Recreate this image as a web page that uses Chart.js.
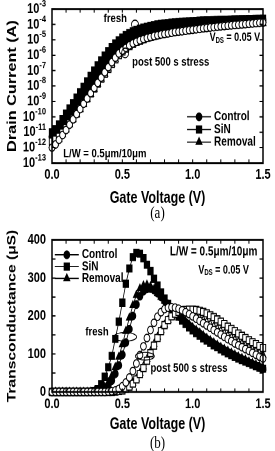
<!DOCTYPE html>
<html>
<head>
    <title>Drain current and transconductance</title>
    <script src="https://cdn.jsdelivr.net/npm/chart.js"></script>
    <style>
        body { margin: 0; background: #fff; }
        /* the figure is stretched vertically, so draw it flat and stretch the whole page */
        #page { position: absolute; left: 0; top: 0; width: 275px; height: 348px;
                transform: scaleY(1.3); transform-origin: 0 0; }
        .box { position: absolute; left: 0; width: 275px; }
        .cap { position: absolute; left: 52px; width: 211px; text-align: center;
               font: 13px "Liberation Serif", "DejaVu Serif", serif; line-height: 14px; }
    </style>
</head>
<body>
<div id="page">
    <div class="box" style="top:0"><canvas id="ivChart" width="275" height="160"></canvas></div>
    <div class="cap" style="top:157px">(a)</div>
    <div class="box" style="top:172px"><canvas id="gmChart" width="275" height="162"></canvas></div>
    <div class="cap" style="top:334px">(b)</div>
</div>

<script>
    const FONT = "'Liberation Sans', Arial, sans-serif";

    // gate voltage (V)
    const gateV = [0, 0.025, 0.05, 0.075, 0.1, 0.125, 0.15, 0.175, 0.2, 0.225, 0.25, 0.275, 0.3, 0.325, 0.35, 0.375,
        0.4, 0.425, 0.45, 0.475, 0.5, 0.525, 0.55, 0.575, 0.6, 0.625, 0.65, 0.675, 0.7, 0.725, 0.75, 0.775,
        0.8, 0.825, 0.85, 0.875, 0.9, 0.925, 0.95, 0.975, 1.0, 1.025, 1.05, 1.075, 1.1, 1.125, 1.15, 1.175,
        1.2, 1.225, 1.25, 1.275, 1.3, 1.325, 1.35, 1.375, 1.4, 1.425, 1.45, 1.475, 1.5];

    // (a) drain current (A), fresh
    const idCtrlFresh = [5.0e-12, 7.1e-12, 1.2e-11, 2.4e-11, 5.0e-11, 1.1e-10, 2.4e-10, 5.2e-10, 1.15e-9, 2.5e-9,
        5.5e-9, 1.2e-8, 2.6e-8, 5.6e-8, 1.2e-7, 2.5e-7, 5.6e-7, 1.26e-6, 2.5e-6, 4.4e-6, 6.9e-6, 1.0e-5, 1.4e-5,
        1.9e-5, 2.5e-5, 3.2e-5, 3.8e-5, 4.5e-5, 5.1e-5, 5.8e-5, 6.5e-5, 7.2e-5, 7.9e-5, 8.5e-5, 9.1e-5, 9.7e-5,
        1.03e-4, 1.08e-4, 1.13e-4, 1.18e-4, 1.23e-4, 1.27e-4, 1.31e-4, 1.35e-4, 1.39e-4, 1.43e-4, 1.47e-4, 1.5e-4,
        1.54e-4, 1.57e-4, 1.6e-4, 1.63e-4, 1.66e-4, 1.68e-4, 1.71e-4, 1.73e-4, 1.75e-4, 1.77e-4, 1.79e-4, 1.81e-4, 1.83e-4];
    const idSinFresh = [1.0e-11, 1.6e-11, 3.2e-11, 7.1e-11, 1.6e-10, 3.5e-10, 7.9e-10, 1.8e-9, 4.0e-9, 8.9e-9,
        2.0e-8, 4.5e-8, 1.0e-7, 2.2e-7, 4.7e-7, 9.5e-7, 1.85e-6, 3.4e-6, 5.8e-6, 9.3e-6, 1.4e-5, 2.0e-5, 2.7e-5,
        3.5e-5, 4.4e-5, 5.3e-5, 6.2e-5, 7.1e-5, 7.9e-5, 9.0e-5, 9.9e-5, 1.07e-4, 1.15e-4, 1.22e-4, 1.29e-4, 1.35e-4,
        1.41e-4, 1.47e-4, 1.53e-4, 1.58e-4, 1.63e-4, 1.68e-4, 1.73e-4, 1.77e-4, 1.81e-4, 1.85e-4, 1.89e-4, 1.93e-4,
        1.97e-4, 2.0e-4, 2.04e-4, 2.07e-4, 2.1e-4, 2.13e-4, 2.16e-4, 2.19e-4, 2.22e-4, 2.24e-4, 2.27e-4, 2.29e-4, 2.32e-4];
    const idRemFresh = [7.1e-12, 1.05e-11, 1.9e-11, 4.0e-11, 8.7e-11, 1.95e-10, 4.3e-10, 9.5e-10, 2.1e-9, 4.7e-9,
        1.0e-8, 2.3e-8, 5.0e-8, 1.1e-7, 2.3e-7, 5.0e-7, 1.07e-6, 2.1e-6, 3.8e-6, 6.2e-6, 9.1e-6, 1.3e-5, 1.8e-5,
        2.4e-5, 3.0e-5, 3.7e-5, 4.4e-5, 5.1e-5, 5.8e-5, 6.5e-5, 7.2e-5, 7.9e-5, 8.6e-5, 9.3e-5, 9.9e-5, 1.05e-4,
        1.11e-4, 1.16e-4, 1.21e-4, 1.26e-4, 1.31e-4, 1.36e-4, 1.4e-4, 1.44e-4, 1.48e-4, 1.52e-4, 1.56e-4, 1.6e-4,
        1.63e-4, 1.66e-4, 1.69e-4, 1.72e-4, 1.75e-4, 1.78e-4, 1.8e-4, 1.83e-4, 1.85e-4, 1.88e-4, 1.9e-4, 1.92e-4, 1.94e-4];

    // (a) drain current (A), post 500 s stress
    const idCtrlStress = [1.0e-12, 1.6e-12, 3.2e-12, 6.6e-12, 1.4e-11, 3.1e-11, 6.8e-11, 1.5e-10, 3.2e-10, 7.1e-10,
        1.55e-9, 3.4e-9, 7.4e-9, 1.6e-8, 3.5e-8, 7.8e-8, 1.66e-7, 3.5e-7, 6.9e-7, 1.3e-6, 2.0e-6, 3.0e-6, 4.3e-6,
        5.8e-6, 7.4e-6, 9.3e-6, 1.12e-5, 1.32e-5, 1.51e-5, 1.74e-5, 1.95e-5, 2.2e-5, 2.4e-5, 2.6e-5, 2.9e-5, 3.2e-5,
        3.4e-5, 3.6e-5, 3.9e-5, 4.2e-5, 4.5e-5, 4.8e-5, 5.1e-5, 5.5e-5, 5.9e-5, 6.3e-5, 6.6e-5, 7.1e-5,
        7.4e-5, 7.9e-5, 8.3e-5, 8.7e-5, 9.1e-5, 9.5e-5, 1.0e-4, 1.05e-4, 1.1e-4, 1.15e-4, 1.2e-4, 1.26e-4, 1.32e-4];
    const idSinStress = [2.5e-12, 3.3e-12, 5.2e-12, 9.5e-12, 1.9e-11, 3.8e-11, 7.9e-11, 1.66e-10, 3.5e-10, 7.6e-10,
        1.6e-9, 3.3e-9, 6.9e-9, 1.45e-8, 3.0e-8, 6.3e-8, 1.3e-7, 2.7e-7, 5.4e-7, 1.0e-6, 1.74e-6, 2.7e-6, 3.9e-6,
        5.4e-6, 7.1e-6, 8.9e-6, 1.1e-5, 1.32e-5, 1.55e-5, 1.78e-5, 2.0e-5, 2.3e-5, 2.6e-5, 2.8e-5, 3.1e-5, 3.4e-5,
        3.7e-5, 4.0e-5, 4.3e-5, 4.6e-5, 4.9e-5, 5.2e-5, 5.6e-5, 6.0e-5, 6.5e-5, 6.9e-5, 7.4e-5, 7.8e-5,
        8.3e-5, 8.7e-5, 9.3e-5, 9.8e-5, 1.02e-4, 1.07e-4, 1.12e-4, 1.17e-4, 1.23e-4, 1.29e-4, 1.35e-4, 1.41e-4, 1.48e-4];
    const idRemStress = [1.4e-12, 2.0e-12, 3.5e-12, 7.1e-12, 1.5e-11, 3.2e-11, 6.8e-11, 1.45e-10, 3.1e-10, 6.6e-10,
        1.4e-9, 3.0e-9, 6.5e-9, 1.4e-8, 2.95e-8, 6.3e-8, 1.35e-7, 2.8e-7, 5.6e-7, 1.07e-6, 1.82e-6, 2.75e-6, 3.9e-6,
        5.2e-6, 6.8e-6, 8.3e-6, 1.0e-5, 1.17e-5, 1.35e-5, 1.55e-5, 1.74e-5, 1.95e-5, 2.1e-5, 2.3e-5, 2.6e-5, 2.8e-5,
        3.0e-5, 3.2e-5, 3.5e-5, 3.7e-5, 4.0e-5, 4.3e-5, 4.6e-5, 4.9e-5, 5.2e-5, 5.5e-5, 5.9e-5, 6.2e-5,
        6.6e-5, 6.9e-5, 7.2e-5, 7.6e-5, 7.9e-5, 8.3e-5, 8.7e-5, 9.1e-5, 9.5e-5, 1.0e-4, 1.05e-4, 1.1e-4, 1.15e-4];

    // (b) transconductance (uS), fresh
    const gmCtrlFresh = [0, 0, 0, 0, 0, 0, 0, 0, 0, 0, 0, 0, 0, 1, 3, 8, 17, 30, 48, 70, 98, 130, 165, 200, 230,
        252, 265, 271, 272, 268, 260, 250, 240, 229, 219, 209, 200, 191, 183, 175, 167, 160, 153, 146, 139, 133,
        127, 121, 115, 110, 105, 100, 95, 90, 86, 81, 77, 73, 69, 65, 61];
    const gmSinFresh = [0, 0, 0, 0, 0, 0, 0, 0, 0, 0, 0, 1, 3, 8, 20, 40, 65, 95, 140, 185, 235, 285, 325, 355,
        366, 364, 352, 335, 318, 298, 280, 262, 246, 232, 220, 208, 198, 188, 179, 170, 162, 155, 148, 141, 135,
        129, 123, 118, 112, 107, 102, 97, 93, 88, 84, 80, 76, 72, 68, 64, 61];
    const gmRemFresh = [0, 0, 0, 0, 0, 0, 0, 0, 0, 0, 0, 0, 1, 2, 5, 12, 25, 42, 65, 92, 125, 160, 195, 228, 255,
        272, 280, 282, 278, 270, 260, 250, 240, 230, 220, 211, 202, 194, 186, 178, 170, 163, 156, 149, 142, 136,
        130, 124, 118, 113, 108, 103, 98, 93, 89, 85, 80, 76, 72, 68, 64];

    // (b) transconductance (uS), post 500 s stress
    const gmCtrlStress = [0, 0, 0, 0, 0, 0, 0, 0, 0, 0, 0, 0, 0, 0, 0, 0, 1, 2, 4, 8, 15, 25, 38, 55, 75, 97, 120,
        142, 163, 182, 198, 210, 218, 222, 223, 222, 219, 215, 210, 205, 199, 193, 187, 181, 175, 169, 163, 157,
        151, 145, 139, 134, 128, 123, 118, 113, 108, 103, 98, 93, 88];
    const gmSinStress = [0, 0, 0, 0, 0, 0, 0, 0, 0, 0, 0, 0, 0, 0, 0, 0, 0, 0, 1, 2, 4, 8, 14, 22, 33, 47, 63, 82,
        102, 122, 142, 160, 176, 189, 199, 206, 211, 214, 216, 217, 217, 216, 214, 211, 207, 202, 197, 191, 185,
        179, 172, 166, 160, 154, 148, 142, 136, 131, 126, 121, 116];
    const gmRemStress = [0, 0, 0, 0, 0, 0, 0, 0, 0, 0, 0, 0, 0, 0, 0, 0, 0, 0, 1, 2, 4, 8, 15, 24, 35, 50, 67, 86,
        106, 126, 145, 162, 177, 189, 198, 204, 207, 208, 207, 205, 202, 198, 194, 189, 184, 178, 172, 166, 160,
        154, 148, 143, 137, 132, 127, 122, 117, 112, 107, 102, 97];

    // axis ticks
    const xLabelTicks = [0, 0.5, 1.0, 1.5];
    const xMinorTicks = [0, 0.1, 0.2, 0.3, 0.4, 0.5, 0.6, 0.7, 0.8, 0.9, 1.0, 1.1, 1.2, 1.3, 1.4, 1.5];
    const idDecades = [-13, -12, -11, -10, -9, -8, -7, -6, -5, -4, -3];
    const gmTicks = [0, 50, 100, 150, 200, 250, 300, 350, 400];

    const groups = ['Control', 'SiN', 'Removal'];
    const markers = { Control: ['circle', 2.9], SiN: ['rect', 3.8], Removal: ['triangle', 3.4] };

    Chart.defaults.font.family = FONT;
    Chart.defaults.font.weight = 'bold';
    Chart.defaults.color = '#000';

    function points(ys) {
        return gateV.map((v, i) => ({ x: v, y: ys[i] }));
    }

    function makeSet(group, ys, filled) {
        const [style, r] = markers[group];
        return {
            label: group + (filled ? ' fresh' : ' stress'),
            data: points(ys),
            borderColor: '#000',
            borderWidth: 0.8,
            pointStyle: style,
            pointRadius: r,
            pointBorderWidth: 0.9,
            pointBorderColor: '#000',
            pointBackgroundColor: filled ? '#000' : '#fff',
            tension: 0,
            clip: 6
        };
    }

    function drawRuns(ctx, runs, x, y, align) {
        let w = 0;
        const widths = runs.map(r => {
            ctx.font = 'bold ' + r.size + 'px ' + FONT;
            const m = ctx.measureText(r.text).width;
            w += m;
            return m;
        });
        let cx = align === 'right' ? x - w : (align === 'center' ? x - w / 2 : x);
        ctx.textAlign = 'left';
        ctx.textBaseline = 'middle';
        ctx.fillStyle = '#000';
        runs.forEach((r, i) => {
            ctx.font = 'bold ' + r.size + 'px ' + FONT;
            ctx.fillText(r.text, cx, y + (r.dy || 0));
            cx += widths[i];
        });
    }

    // frame, inward ticks on all sides, notes, ellipses and legend
    function makeDecor(cfg) {
        return {
            id: 'decor',
            afterDatasetsDraw(chart) {
                const { ctx, chartArea: a } = chart;
                const xs = chart.scales.x, ys = chart.scales.y;
                ctx.save();
                ctx.strokeStyle = '#000';
                ctx.lineWidth = 1;
                ctx.beginPath();
                xMinorTicks.forEach(v => {
                    const px = xs.getPixelForValue(v);
                    ctx.moveTo(px, a.bottom); ctx.lineTo(px, a.bottom - 2.8);
                    ctx.moveTo(px, a.top); ctx.lineTo(px, a.top + 2.8);
                });
                cfg.yTicks.forEach(v => {
                    const py = ys.getPixelForValue(v);
                    ctx.moveTo(a.left, py); ctx.lineTo(a.left + 3.5, py);
                    ctx.moveTo(a.right, py); ctx.lineTo(a.right - 3.5, py);
                });
                ctx.stroke();
                ctx.lineWidth = 1.5;
                ctx.strokeRect(a.left, a.top, a.right - a.left, a.bottom - a.top);

                if (cfg.powerLabels) {
                    cfg.yTicks.forEach((v, i) => {
                        const py = ys.getPixelForValue(v);
                        drawRuns(ctx, [{ text: '10', size: 11 }, { text: String(idDecades[i]), size: 7.5, dy: -4 }],
                            a.left - 6, py, 'right');
                    });
                }

                cfg.notes.forEach(n => {
                    drawRuns(ctx, n.runs, xs.getPixelForValue(n.x), ys.getPixelForValue(n.y), n.align);
                });

                ctx.lineWidth = 0.8;
                cfg.rings.forEach(e => {
                    ctx.beginPath();
                    ctx.ellipse(xs.getPixelForValue(e.x), ys.getPixelForValue(e.y), e.rx, e.ry, 0, 0, Math.PI * 2);
                    ctx.stroke();
                });

                const L = cfg.legend;
                const x0 = xs.getPixelForValue(L.x);
                groups.forEach((g, i) => {
                    const py = ys.getPixelForValue(L.rows[i]);
                    ctx.lineWidth = 0.9;
                    ctx.beginPath();
                    ctx.moveTo(x0, py); ctx.lineTo(x0 + L.len, py);
                    ctx.stroke();
                    ctx.fillStyle = '#000';
                    Chart.helpers.drawPoint(ctx, { pointStyle: markers[g][0], radius: markers[g][1], borderWidth: 0.9, rotation: 0 },
                        x0 + L.len / 2, py);
                    drawRuns(ctx, [{ text: g, size: 10 }], x0 + L.len + 3, py, 'left');
                });
                ctx.restore();
            }
        };
    }

    const vds = [{ text: 'V', size: 9 }, { text: 'DS', size: 6, dy: 2 }, { text: ' = 0.05 V', size: 9 }];

    const ivDecor = {
        yTicks: idDecades.map(e => Math.pow(10, e)),
        powerLabels: true,
        notes: [
            { x: 0.45, y: 2.3e-4, align: 'center', runs: [{ text: 'fresh', size: 9.5 }] },
            { x: 0.57, y: 3.6e-7, align: 'left', runs: [{ text: 'post 500 s stress', size: 9.5 }] },
            { x: 1.48, y: 1.3e-5, align: 'right', runs: vds },
            { x: 0.08, y: 4e-13, align: 'left', runs: [{ text: 'L/W = 0.5\u03bcm/10\u03bcm', size: 9.5 }] }
        ],
        rings: [
            { x: 0.59, y: 1.0e-4, rx: 3.5, ry: 3.3 },
            { x: 0.52, y: 1.4e-6, rx: 3.5, ry: 3.8 }
        ],
        legend: { x: 0.96, len: 24, rows: [1e-10, 1.5e-11, 2.3e-12] }
    };

    const gmDecor = {
        yTicks: gmTicks,
        powerLabels: false,
        notes: [
            { x: 0.32, y: 158, align: 'center', runs: [{ text: 'fresh', size: 9.5 }] },
            { x: 0.70, y: 62, align: 'left', runs: [{ text: 'post 500 s stress', size: 9.5 }] },
            { x: 1.46, y: 369, align: 'right', runs: [{ text: 'L/W = 0.5\u03bcm/10\u03bcm', size: 10 }] },
            { x: 1.40, y: 320, align: 'right', runs: vds }
        ],
        rings: [
            { x: 0.52, y: 145, rx: 11.5, ry: 3.4 },
            { x: 0.66, y: 94, rx: 9.5, ry: 3 }
        ],
        legend: { x: 0.02, len: 24, rows: [361, 330, 299] }
    };

    function baseOptions(padTop, xHeight, labelPad) {
        return {
            responsive: false,
            devicePixelRatio: 2,
            animation: false,
            layout: { padding: { top: padTop, right: 12, left: 0, bottom: 0 } },
            plugins: { legend: { display: false }, tooltip: { enabled: false } },
            scales: {
                x: {
                    type: 'linear', min: 0, max: 1.5,
                    grid: { display: false, drawTicks: false },
                    border: { display: false },
                    afterBuildTicks: s => { s.ticks = xLabelTicks.map(v => ({ value: v })); },
                    ticks: { padding: labelPad, maxRotation: 0, font: { size: 11 }, callback: v => v.toFixed(1) },
                    title: { display: true, text: 'Gate Voltage (V)', font: { size: 12.5 }, padding: 0 },
                    afterFit: s => { s.height = xHeight; }
                }
            }
        };
    }

    const ivOptions = baseOptions(6.9, 34.6, 2.6);
    ivOptions.scales.y = {
        type: 'logarithmic', min: 1e-13, max: 1e-3,
        grid: { display: false, drawTicks: false },
        border: { display: false },
        ticks: { display: false },
        title: { display: true, text: 'Drain Current (A)', font: { size: 12.5 }, padding: { top: 5, bottom: 0 } },
        afterFit: s => { s.width = 52; }
    };

    new Chart(document.getElementById('ivChart'), {
        type: 'line',
        data: {
            datasets: [
                makeSet('Control', idCtrlStress, false),
                makeSet('SiN', idSinStress, false),
                makeSet('Removal', idRemStress, false),
                makeSet('Control', idCtrlFresh, true),
                makeSet('SiN', idSinFresh, true),
                makeSet('Removal', idRemFresh, true)
            ]
        },
        options: ivOptions,
        plugins: [makeDecor(ivDecor)]
    });

    const gmOptions = baseOptions(10.3, 32.5, 2.9);
    gmOptions.scales.y = {
        type: 'linear', min: 0, max: 400,
        grid: { display: false, drawTicks: false },
        border: { display: false },
        ticks: { stepSize: 100, padding: 6, font: { size: 11 } },
        title: { display: true, text: 'Transconductance (\u03bcS)', font: { size: 12 }, padding: { top: 5, bottom: 0 } },
        afterFit: s => { s.width = 52; }
    };

    new Chart(document.getElementById('gmChart'), {
        type: 'line',
        data: {
            datasets: [
                makeSet('Control', gmCtrlStress, false),
                makeSet('SiN', gmSinStress, false),
                makeSet('Removal', gmRemStress, false),
                makeSet('Control', gmCtrlFresh, true),
                makeSet('SiN', gmSinFresh, true),
                makeSet('Removal', gmRemFresh, true)
            ]
        },
        options: gmOptions,
        plugins: [makeDecor(gmDecor)]
    });
</script>
</body>
</html>
